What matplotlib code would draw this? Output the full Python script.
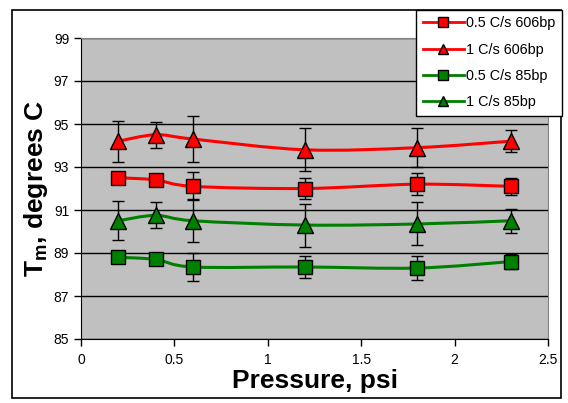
# Melting temperature vs pressure, two ramp rates and two fragment sizes

import numpy as np
import matplotlib.pyplot as plt
from matplotlib.path import Path
from matplotlib.patches import PathPatch, Rectangle
from matplotlib.lines import Line2D

plt.rcParams['font.family'] = ['Liberation Sans', 'DejaVu Sans']

# Data
pressure = [0.2, 0.4, 0.6, 1.2, 1.8, 2.3]

tm_05_606 = [92.5, 92.4, 92.1, 92.0, 92.2, 92.1]
err_05_606 = [0.2, 0.2, 0.65, 0.5, 0.5, 0.4]

tm_1_606 = [94.2, 94.5, 94.3, 93.8, 93.9, 94.2]
err_1_606 = [0.95, 0.6, 1.05, 1.0, 0.9, 0.5]

tm_05_85 = [88.8, 88.7, 88.35, 88.35, 88.3, 88.6]
err_05_85 = [0.2, 0.2, 0.65, 0.5, 0.55, 0.35]

tm_1_85 = [90.5, 90.75, 90.5, 90.3, 90.35, 90.5]
err_1_85 = [0.9, 0.6, 1.0, 1.0, 1.0, 0.55]

labels = ['0.5 C/s 606bp', '1 C/s 606bp', '0.5 C/s 85bp', '1 C/s 85bp']


def smooth_path(x, y):
    # Excel style smoothed line: cubic bezier through the points
    pts = np.column_stack([x, y])
    n = len(pts)
    verts = [pts[0]]
    codes = [Path.MOVETO]
    for i in range(n - 1):
        p0 = pts[i - 1] if i > 0 else pts[i]
        p1 = pts[i]
        p2 = pts[i + 1]
        p3 = pts[i + 2] if i + 2 < n else pts[i + 1]
        c1 = p1 + (p2 - p0) / 6.0
        c2 = p2 - (p3 - p1) / 6.0
        verts += [c1, c2, p2]
        codes += [Path.CURVE4] * 3
    return Path(verts, codes)


fig = plt.figure(figsize=(5.68, 4.03), dpi=100)
ax = fig.add_axes([81 / 568, 1 - 339 / 403, 467 / 568, 301 / 403])
ax.set_facecolor('#C0C0C0')

series = [
    (tm_05_606, err_05_606, '#FF0000', 's', 10),
    (tm_1_606, err_1_606, '#FF0000', '^', 11),
    (tm_05_85, err_05_85, '#008000', 's', 10),
    (tm_1_85, err_1_85, '#008000', '^', 11),
]

handles = []
for (y, e, c, m, ms), lab in zip(series, labels):
    patch = PathPatch(smooth_path(pressure, y), fill=False, edgecolor=c,
                      lw=2.2, zorder=3, transform=ax.transData)
    ax.add_patch(patch)
    ax.errorbar(pressure, y, yerr=e, fmt='none', ecolor='black',
                elinewidth=1, capsize=4.5, capthick=1, zorder=4)
    ax.plot(pressure, y, ls='none', marker=m, ms=ms, mfc=c, mec='black',
            mew=1, zorder=5)
    handles.append(Line2D([], [], color=c, lw=2, marker=m, ms=7,
                          mfc=c, mec='black', mew=1))

ax.set_xlim(0, 2.5)
ax.set_ylim(85, 99)
ax.set_xticks([0, 0.5, 1, 1.5, 2, 2.5])
ax.set_xticklabels(['0', '0.5', '1', '1.5', '2', '2.5'])
ax.set_yticks([85, 87, 89, 91, 93, 95, 97, 99])
ax.yaxis.grid(True, color='black', lw=1)
ax.set_axisbelow(True)
ax.tick_params(labelsize=10, length=5, width=1, color='black')
ax.tick_params(axis='x', pad=5)

for s in ['top', 'right']:
    ax.spines[s].set_color('#808080')
for s in ['left', 'bottom']:
    ax.spines[s].set_color('black')

ax.set_xlabel('Pressure, psi', fontsize=19, fontweight='bold')
ax.set_ylabel('T$_\\mathregular{m}$, degrees C', fontsize=19,
              fontweight='bold')
ax.xaxis.set_label_coords(0.5, -0.1)
ax.yaxis.set_label_coords(-0.066, 0.5)

# outer chart border
fig.patches.append(Rectangle((12 / 568, 1 - 398 / 403), 549 / 568, 388 / 403,
                             transform=fig.transFigure, fill=False,
                             edgecolor='black', lw=1.2))

leg = fig.legend(handles, labels, loc='upper left',
                 bbox_to_anchor=(416 / 568, 1 - 10 / 403), fontsize=10.4,
                 frameon=True, fancybox=False, edgecolor='black',
                 framealpha=1, handlelength=2.85, handletextpad=0.15,
                 borderpad=0.45, labelspacing=0.85, borderaxespad=0)
leg.get_frame().set_linewidth(1)

fig.savefig('out.png', dpi=100)
